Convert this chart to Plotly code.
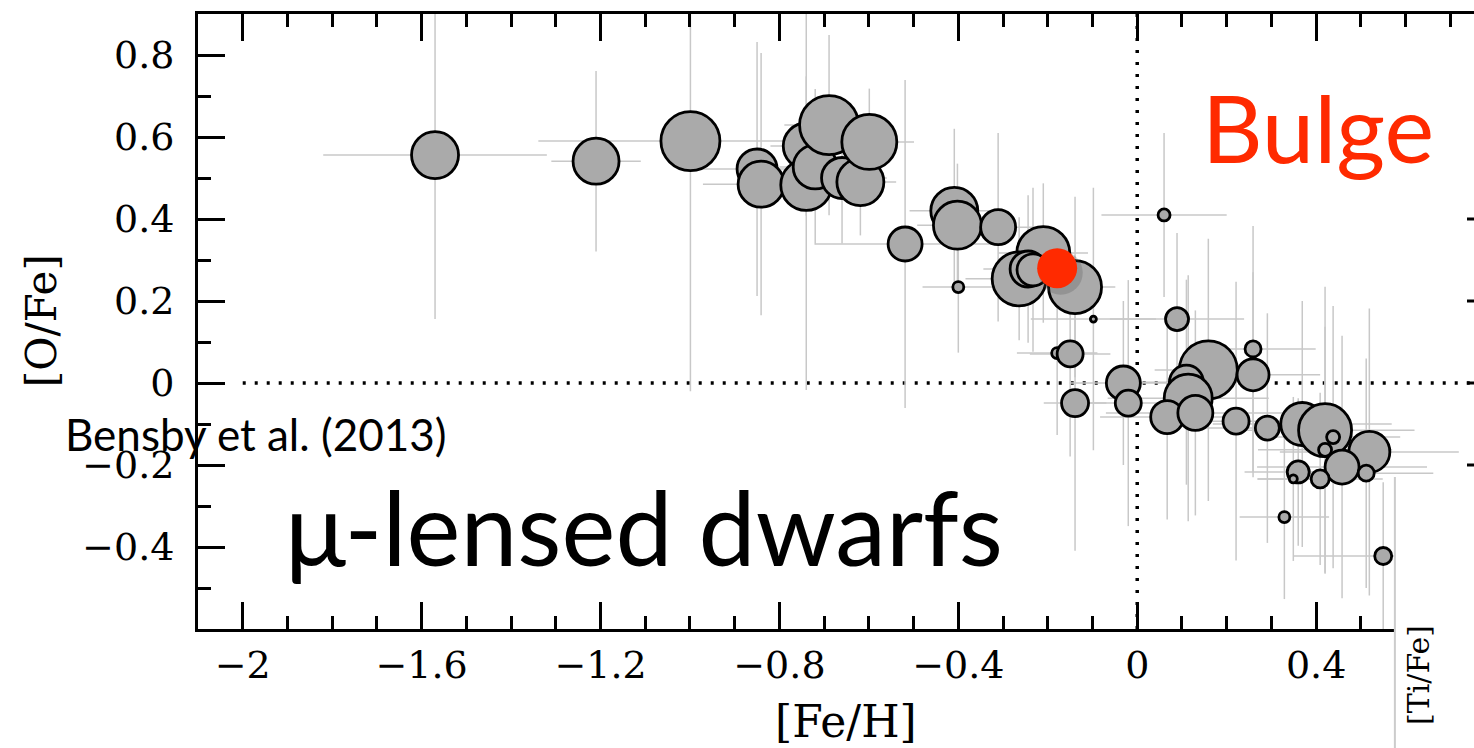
import plotly.graph_objects as go

# Bensby et al. (2013) microlensed bulge dwarfs: [Fe/H] vs [O/Fe]
feh = [-1.570, -1.210, -0.999, -0.850, -0.841, -0.740, -0.740, -0.720, -0.689, -0.660,
       -0.619, -0.599, -0.519, -0.409, -0.402, -0.311, -0.400, -0.210, -0.264, -0.244,
       -0.233, -0.139, -0.098, -0.179, -0.150, -0.139, -0.031, -0.020, 0.060, 0.089,
       0.159, 0.259, 0.259, 0.110, 0.114, 0.067, 0.130, 0.221, 0.291, 0.369,
       0.420, 0.438, 0.420, 0.519, 0.458, 0.512, 0.360, 0.349, 0.409, 0.329, 0.550]
ofe = [0.556, 0.541, 0.590, 0.522, 0.485, 0.578, 0.483, 0.527, 0.629, 0.500,
       0.490, 0.588, 0.339, 0.420, 0.385, 0.380, 0.234, 0.317, 0.254, 0.278,
       0.276, 0.234, 0.156, 0.073, 0.071, -0.049, 0.000, -0.049, 0.410, 0.156,
       0.032, 0.083, 0.020, 0.002, -0.037, -0.083, -0.073, -0.093, -0.110, -0.100,
       -0.115, -0.132, -0.163, -0.168, -0.205, -0.220, -0.217, -0.234, -0.234, -0.327, -0.422]
feh_err = [0.25, 0.10, 0.34, 0.15, 0.13, 0.08, 0.10, 0.08, 0.10, 0.10,
           0.08, 0.10, 0.20, 0.10, 0.09, 0.12, 0.08, 0.10, 0.12, 0.10,
           0.08, 0.09, 0.14, 0.09, 0.09, 0.07, 0.12, 0.10, 0.14, 0.15,
           0.12, 0.14, 0.15, 0.15, 0.18, 0.15, 0.20, 0.15, 0.15, 0.20,
           0.20, 0.15, 0.15, 0.20, 0.19, 0.15, 0.12, 0.08, 0.14, 0.10, 0.20]
ofe_err = [0.40, 0.22, 0.61, 0.31, 0.32, 0.17, 0.50, 0.19, 0.22, 0.16,
           0.13, 0.13, 0.40, 0.20, 0.15, 0.23, 0.16, 0.17, 0.15, 0.18,
           0.20, 0.22, 0.32, 0.20, 0.25, 0.36, 0.20, 0.30, 0.20, 0.21,
           0.32, 0.30, 0.25, 0.25, 0.30, 0.25, 0.25, 0.34, 0.28, 0.30,
           0.35, 0.32, 0.30, 0.35, 0.32, 0.28, 0.18, 0.20, 0.21, 0.20, 0.18]
# symbol diameters (px)
sym_size = [47, 46, 59, 40, 46, 46, 51, 44, 59, 41,
            47, 55, 34, 47, 48, 35, 11, 53, 54, 36,
            32, 53, 6, 11, 26, 27, 34, 26, 12, 23,
            58, 16, 32, 34, 48, 33, 35, 26, 24, 43,
            53, 13, 13, 41, 34, 16, 22, 8, 18, 11, 17]

# bulge reference point
bulge_feh = [-0.179]
bulge_ofe = [0.280]

x_ticks_major = 0.4
y_tick_vals = [-0.4, -0.2, 0.0, 0.2, 0.4, 0.6, 0.8]
right_stub_vals = [0.4, 0.2, 0.0, -0.2]

tick_font = dict(family="DejaVu Serif", size=38, color="black")
BULGE_RED = "#ff2a00"

fig = go.Figure()

fig.add_trace(go.Scatter(
    x=feh, y=ofe, mode="markers",
    marker=dict(size=sym_size, color="#aaaaaa", opacity=1,
                line=dict(color="black", width=2.8)),
    error_x=dict(type="data", array=feh_err, color="#c8c8c8", thickness=1.5, width=0),
    error_y=dict(type="data", array=ofe_err, color="#c8c8c8", thickness=1.5, width=0),
    showlegend=False, hoverinfo="x+y",
))

# soft shadow under the bulge marker
fig.add_trace(go.Scatter(
    x=[v + 0.008 for v in bulge_feh], y=[v - 0.011 for v in bulge_ofe], mode="markers",
    marker=dict(size=44, color="rgba(80,80,80,0.25)", line=dict(width=0)),
    showlegend=False, hoverinfo="skip",
))
fig.add_trace(go.Scatter(
    x=bulge_feh, y=bulge_ofe, mode="markers",
    marker=dict(size=40, color=BULGE_RED, opacity=1, line=dict(width=0)),
    showlegend=False, hoverinfo="x+y",
))

shapes = []
# dotted reference lines at zero
shapes.append(dict(type="line", xref="x", yref="paper", x0=0, x1=0, y0=0, y1=1,
                   line=dict(color="black", width=3.5, dash="3px,9px"), layer="below"))
shapes.append(dict(type="line", xref="x", yref="y", x0=-2.0, x1=0.8, y0=0, y1=0,
                   line=dict(color="black", width=3.5, dash="3px,9px"), layer="below"))
# right-hand tick stubs
for v in right_stub_vals:
    shapes.append(dict(type="line", xref="paper", yref="y", x0=0.9945, x1=1.0, y0=v, y1=v,
                       line=dict(color="black", width=3), layer="above"))
# blank panel corner holding the [Ti/Fe] label
shapes.append(dict(type="rect", xref="paper", yref="paper", x0=0.938, x1=1.05,
                   y0=-0.25, y1=0.247, fillcolor="white", line=dict(width=0), layer="above"))
shapes.append(dict(type="line", xref="paper", yref="paper", x0=0.938, x1=0.938,
                   y0=-0.25, y1=0.247, line=dict(color="#cccccc", width=2), layer="above"))

annotations = [
    dict(text="Bulge", xref="x", yref="y", x=0.141, y=0.626, xanchor="left", yanchor="middle",
         showarrow=False, font=dict(family="Lato", size=94, color=BULGE_RED)),
    dict(text="μ-lensed dwarfs", xref="x", yref="y", x=-1.909, y=-0.351, xanchor="left",
         yanchor="middle", showarrow=False, font=dict(family="Lato", size=102, color="black")),
    dict(text="Bensby et al. (2013)", xref="paper", yref="y", x=-0.106, y=-0.124,
         xanchor="left", yanchor="middle", showarrow=False,
         font=dict(family="Lato", size=44, color="black")),
    dict(text="[Fe/H]", xref="paper", yref="paper", x=0.508, y=-0.151, xanchor="center",
         yanchor="middle", showarrow=False, font=dict(family="DejaVu Serif", size=44, color="black")),
    dict(text="[O/Fe]", xref="paper", yref="paper", x=-0.122, y=0.501, xanchor="center",
         yanchor="middle", textangle=-90, showarrow=False,
         font=dict(family="DejaVu Serif", size=42, color="black")),
    dict(text="[Ti/Fe]", xref="paper", yref="paper", x=0.956, y=-0.075, xanchor="center",
         yanchor="middle", textangle=-90, showarrow=False,
         font=dict(family="DejaVu Serif", size=30, color="black")),
]

fig.update_layout(
    width=1474, height=748,
    margin=dict(l=198, r=0, t=14, b=119),
    paper_bgcolor="white", plot_bgcolor="white",
    shapes=shapes, annotations=annotations,
    xaxis=dict(range=[-2.1, 0.753], tick0=0, dtick=x_ticks_major, ticks="inside",
               ticklen=27, tickwidth=2.5, tickcolor="black", showline=True, linecolor="black",
               linewidth=3, mirror="ticks", showgrid=False, zeroline=False,
               tickfont=tick_font, ticklabelstandoff=0,
               minor=dict(dtick=0.1, ticks="inside", ticklen=13, tickwidth=2.5,
                          tickcolor="black", showgrid=False)),
    yaxis=dict(range=[-0.6, 0.9], tickmode="array", tickvals=y_tick_vals, ticks="inside",
               ticklen=27, tickwidth=2.5, tickcolor="black", showline=True, linecolor="black",
               linewidth=3, mirror=False, showgrid=False, zeroline=False,
               tickfont=tick_font, ticklabelstandoff=13,
               minor=dict(tick0=0, dtick=0.1, ticks="inside", ticklen=13, tickwidth=2.5,
                          tickcolor="black", showgrid=False)),
)

fig.write_html("out.html")
